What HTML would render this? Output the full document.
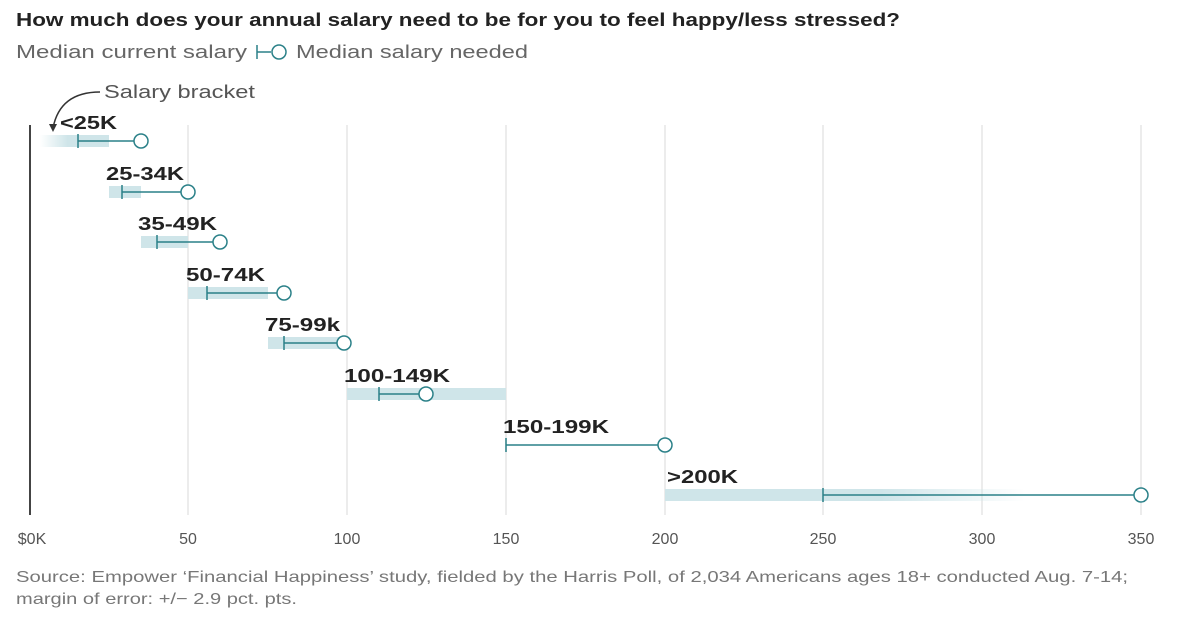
<!DOCTYPE html>
<html><head><meta charset="utf-8"><style>
body{margin:0;background:#fff;width:1182px;height:620px;overflow:hidden;font-family:"Liberation Sans",sans-serif}
</style></head><body>
<svg width="1182" height="620" xmlns="http://www.w3.org/2000/svg" font-family="Liberation Sans, sans-serif">
<defs><linearGradient id="fade" x1="0" x2="1"><stop offset="0" stop-color="#cfe5e9" stop-opacity="0"/><stop offset="0.4" stop-color="#cfe5e9"/></linearGradient>
<linearGradient id="fade2" x1="0" x2="1"><stop offset="0.6" stop-color="#cfe5e9"/><stop offset="1" stop-color="#cfe5e9" stop-opacity="0"/></linearGradient></defs>
<text x="16" y="26" font-size="18" font-weight="bold" fill="#222" textLength="884" lengthAdjust="spacingAndGlyphs">How much does your annual salary need to be for you to feel happy/less stressed?</text>
<text x="16" y="58" font-size="18" fill="#666" textLength="231" lengthAdjust="spacingAndGlyphs">Median current salary</text>
<line x1="257" y1="45" x2="257" y2="59" stroke="#2a8088" stroke-width="1.5"/><line x1="257" y1="52" x2="271" y2="52" stroke="#2a8088" stroke-width="1.5"/><circle cx="279" cy="52" r="7" fill="#fff" stroke="#2a8088" stroke-width="1.5"/>
<text x="296" y="58" font-size="18" fill="#666" textLength="232" lengthAdjust="spacingAndGlyphs">Median salary needed</text>
<text x="104" y="98" font-size="18" fill="#555" textLength="151" lengthAdjust="spacingAndGlyphs">Salary bracket</text>
<path d="M100 92 Q60 92 53 128" fill="none" stroke="#333" stroke-width="1.5"/><path d="M49 124 L53 132 L57 124Z" fill="#333"/>
<g stroke="#e5e5e5" stroke-width="1.5">
<line x1="188" y1="125" x2="188" y2="515"/><line x1="347" y1="125" x2="347" y2="515"/><line x1="506" y1="125" x2="506" y2="515"/><line x1="665" y1="125" x2="665" y2="515"/><line x1="823" y1="125" x2="823" y2="515"/><line x1="982" y1="125" x2="982" y2="515"/><line x1="1141" y1="125" x2="1141" y2="515"/></g>
<line x1="30" y1="125" x2="30" y2="515" stroke="#444" stroke-width="2"/>
<g font-size="16" fill="#555" text-anchor="middle">
<text x="32" y="544">$0K</text><text x="188" y="544">50</text><text x="347" y="544">100</text><text x="506" y="544">150</text><text x="665" y="544">200</text><text x="823" y="544">250</text><text x="982" y="544">300</text><text x="1141" y="544">350</text></g>
<g fill="#cfe5e9">
<rect x="40" y="135" width="69" height="12" fill="url(#fade)"/>
<rect x="109" y="186" width="32" height="12"/>
<rect x="141" y="236" width="47" height="12"/>
<rect x="188" y="287" width="80" height="12"/>
<rect x="268" y="337" width="79" height="12"/>
<rect x="347" y="388" width="159" height="12"/>
<rect x="665" y="489" width="360" height="12" fill="url(#fade2)"/>
</g>
<g font-size="18" font-weight="bold" fill="#222">
<text x="60" y="129" textLength="57" lengthAdjust="spacingAndGlyphs">&lt;25K</text>
<text x="106" y="180" textLength="78" lengthAdjust="spacingAndGlyphs">25-34K</text>
<text x="138" y="230" textLength="79" lengthAdjust="spacingAndGlyphs">35-49K</text>
<text x="186" y="281" textLength="79" lengthAdjust="spacingAndGlyphs">50-74K</text>
<text x="265" y="331" textLength="75" lengthAdjust="spacingAndGlyphs">75-99k</text>
<text x="344" y="382" textLength="106" lengthAdjust="spacingAndGlyphs">100-149K</text>
<text x="503" y="433" textLength="106" lengthAdjust="spacingAndGlyphs">150-199K</text>
<text x="667" y="483" textLength="71" lengthAdjust="spacingAndGlyphs">&gt;200K</text></g>
<g stroke="#2a8088" stroke-width="1.5" fill="#fff">
<path d="M78 134V148M78 141H134"/><circle cx="141" cy="141" r="7"/>
<path d="M122 185V199M122 192H181"/><circle cx="188" cy="192" r="7"/>
<path d="M157 235V249M157 242H213"/><circle cx="220" cy="242" r="7"/>
<path d="M207 286V300M207 293H277"/><circle cx="284" cy="293" r="7"/>
<path d="M284 336V350M284 343H337"/><circle cx="344" cy="343" r="7"/>
<path d="M379 387V401M379 394H419"/><circle cx="426" cy="394" r="7"/>
<path d="M506 438V452M506 445H658"/><circle cx="665" cy="445" r="7"/>
<path d="M823 488V502M823 495H1134"/><circle cx="1141" cy="495" r="7"/>
</g>
<text x="16" y="582" font-size="16" fill="#777" textLength="1112" lengthAdjust="spacingAndGlyphs">Source: Empower ‘Financial Happiness’ study, fielded by the Harris Poll, of 2,034 Americans ages 18+ conducted Aug. 7-14;</text>
<text x="16" y="604" font-size="16" fill="#777" textLength="281" lengthAdjust="spacingAndGlyphs">margin of error: +/− 2.9 pct. pts.</text>
</svg>
</body></html>
